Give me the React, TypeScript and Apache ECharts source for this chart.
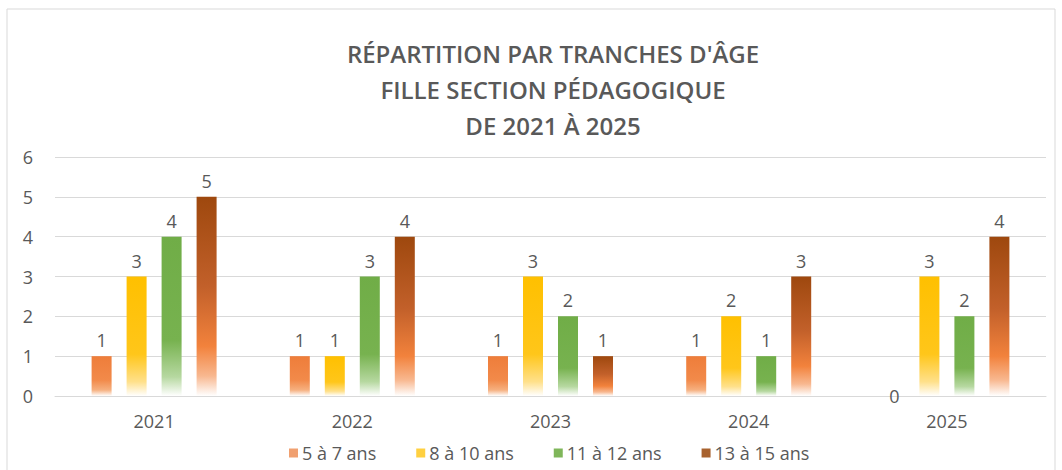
import React, { useEffect, useRef } from "react";
import * as echarts from "echarts";

const years = ["2021", "2022", "2023", "2024", "2025"];
const seriesNames = ["5 à 7 ans", "8 à 10 ans", "11 à 12 ans", "13 à 15 ans"];
const age5to7 = [1, 1, 1, 1, 0];
const age8to10 = [3, 1, 3, 2, 3];
const age11to12 = [4, 3, 2, 1, 2];
const age13to15 = [5, 4, 1, 3, 4];
const yTicks = [0, 1, 2, 3, 4, 5, 6];
const titleLines = ["RÉPARTITION PAR TRANCHES D'ÂGE", "FILLE SECTION PÉDAGOGIQUE", "DE 2021 À 2025"];

const font = "Open Sans, sans-serif";

const grad = (stops: [number, string][]) =>
  new echarts.graphic.LinearGradient(0, 0, 0, 1, stops.map(([offset, color]) => ({ offset, color })));

const fills = [
  grad([[0, "#EE7D3A"], [0.6, "#F28A4A"], [0.85, "#F6B080"], [1, "#FFFFFF"]]),
  grad([[0, "#FFC000"], [0.65, "#FFC61A"], [0.88, "#FFE08A"], [1, "#FFFFFF"]]),
  grad([[0, "#70AD47"], [0.65, "#77B24F"], [0.88, "#B6D8A0"], [1, "#FFFFFF"]]),
  grad([[0, "#9E480E"], [0.45, "#C2602A"], [0.75, "#F2823C"], [0.9, "#F8B890"], [1, "#FFFFFF"]]),
];
const legendColors = ["#F0A070", "#FFD040", "#7FB65A", "#A8622E"];

export default function App() {
  const ref = useRef<HTMLDivElement>(null);
  useEffect(() => {
    const chart = echarts.init(ref.current!, null, { renderer: "svg" });
    const data = [age5to7, age8to10, age11to12, age13to15];
    chart.setOption({
      animation: false,
      backgroundColor: "#ffffff",
      title: {
        text: titleLines.join("\n"),
        left: 548,
        textAlign: "center",
        top: 30,
        textStyle: {
          fontFamily: font,
          fontSize: 24,
          fontWeight: 600,
          color: "#595959",
          lineHeight: 36,
        },
      },
      graphic: [
        {
          type: "rect",
          shape: { x: 7, y: 9, width: 1048, height: 470 },
          style: { fill: "none", stroke: "#d9d9d9", lineWidth: 1 },
          silent: true,
        },
      ],
      legend: {
        data: seriesNames.map((n, i) => ({ name: n, itemStyle: { color: legendColors[i] } })),
        bottom: 3,
        left: 284,
        itemWidth: 9,
        itemHeight: 9,
        itemGap: 40,
        icon: "rect",
        textStyle: { fontFamily: font, fontSize: 18, color: "#595959", padding: [0, 0, 0, -1] },
      },
      grid: { left: 55, right: 16, top: 157, bottom: 74 },
      xAxis: {
        type: "category",
        data: years,
        axisLine: { lineStyle: { color: "#d9d9d9" } },
        axisTick: { show: false },
        axisLabel: { fontFamily: font, fontSize: 18, color: "#595959", margin: 16 },
      },
      yAxis: {
        type: "value",
        min: yTicks[0],
        max: yTicks[yTicks.length - 1],
        interval: 1,
        axisLine: { show: false },
        axisTick: { show: false },
        splitLine: { lineStyle: { color: "#d9d9d9" } },
        axisLabel: { fontFamily: font, fontSize: 18, color: "#595959", margin: 22 },
      },
      series: seriesNames.map((name, i) => ({
        name,
        type: "bar",
        data: data[i].map((v) =>
          v === 0 ? { value: v, label: { position: "inside" } } : v
        ),
        barWidth: 20,
        barGap: "75%",
        itemStyle: { color: fills[i] },
        label: {
          show: true,
          position: "top",
          distance: 7,
          fontFamily: font,
          fontSize: 18,
          color: "#595959",
        },
      })),
    });
    return () => chart.dispose();
  }, []);
  return (
    <div
      ref={ref}
      style={{ position: "absolute", left: 0, top: 0, width: 1062, height: 470 }}
    />
  );
}
